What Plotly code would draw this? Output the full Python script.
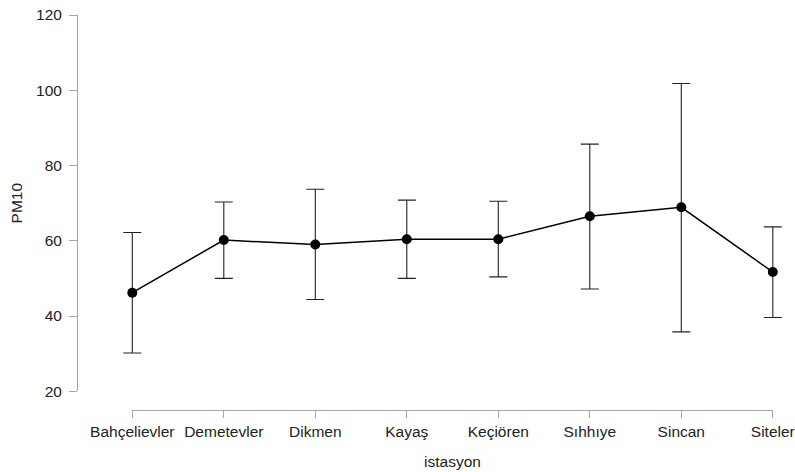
import plotly.graph_objects as go

# PM10 by monitoring station: mean with lower/upper interval bounds
stations = ["Bahçelievler", "Demetevler", "Dikmen", "Kayaş", "Keçiören",
            "Sıhhıye", "Sincan", "Siteler"]
pm10_mean = [46.2, 60.2, 59.0, 60.4, 60.4, 66.5, 68.9, 51.7]
pm10_upper = [62.2, 70.3, 73.7, 70.8, 70.5, 85.7, 101.8, 63.7]
pm10_lower = [30.2, 50.0, 44.4, 50.0, 50.4, 47.2, 35.8, 39.6]
y_ticks = [20, 40, 60, 80, 100, 120]

positions = list(range(len(stations)))
err_plus = [u - m for u, m in zip(pm10_upper, pm10_mean)]
err_minus = [m - l for m, l in zip(pm10_mean, pm10_lower)]

W, H = 795, 472
left, right, top, bottom = 77, 0, 14.7, 62
plot_w = W - left - right
plot_h = H - top - bottom

# pixel layout of the category axis: first/last category and spacing
first_px, last_px = 132.3, 772.8
step = (last_px - first_px) / (len(stations) - 1)
x_lo = 0 - (first_px - left) / step
x_hi = (len(stations) - 1) + (W - right - last_px) / step

axis_gray = "#a6a6a6"
text_color = "#222222"
font_family = "Liberation Sans, Arial, sans-serif"
fs = 15.5

fig = go.Figure()
# invisible companion trace so the labelled category axis is drawn
fig.add_trace(go.Scatter(
    x=positions, y=pm10_mean, xaxis="x2", mode="markers",
    marker=dict(opacity=0), showlegend=False, hoverinfo="skip",
))
fig.add_trace(go.Scatter(
    x=positions, y=pm10_mean,
    mode="lines+markers",
    line=dict(color="#000000", width=1.5),
    marker=dict(color="#000000", size=10),
    error_y=dict(type="data", symmetric=False, array=err_plus,
                 arrayminus=err_minus, color="#222222", thickness=1.1, width=9),
    cliponaxis=False, showlegend=False, hoverinfo="x+y",
))

fig.update_layout(
    width=W, height=H,
    margin=dict(l=left, r=right, t=top, b=bottom, pad=0),
    paper_bgcolor="white", plot_bgcolor="rgba(0,0,0,0)",
    font=dict(family=font_family, size=fs, color=text_color),
    xaxis=dict(
        domain=[0, 1], range=[x_lo, x_hi], visible=False,
        anchor="free", position=0,
    ),
    xaxis2=dict(
        domain=[(first_px - left) / plot_w, (last_px - left) / plot_w],
        anchor="free", position=0,
        range=[0, len(stations) - 1],
        tickmode="array", tickvals=positions, ticktext=stations,
        showline=True, linecolor=axis_gray, linewidth=1,
        ticks="outside", ticklen=7, tickcolor=axis_gray, tickwidth=1,
        showgrid=False, zeroline=False,
        tickfont=dict(size=fs, color=text_color),
        title=dict(text="istasyon", font=dict(size=fs, color=text_color), standoff=17),
        automargin=False,
    ),
    yaxis=dict(
        domain=[(H - bottom - 391.3) / plot_h, 1],
        anchor="free", position=0,
        range=[20, 120],
        tickmode="array", tickvals=y_ticks,
        showline=True, linecolor=axis_gray, linewidth=1,
        ticks="outside", ticklen=8, tickcolor=axis_gray, tickwidth=1,
        ticklabelstandoff=4,
        showgrid=False, zeroline=False,
        tickfont=dict(size=fs, color=text_color),
        title=dict(text="PM10", font=dict(size=fs, color=text_color), standoff=8),
        automargin=False,
    ),
)

fig.write_html("out.html")
